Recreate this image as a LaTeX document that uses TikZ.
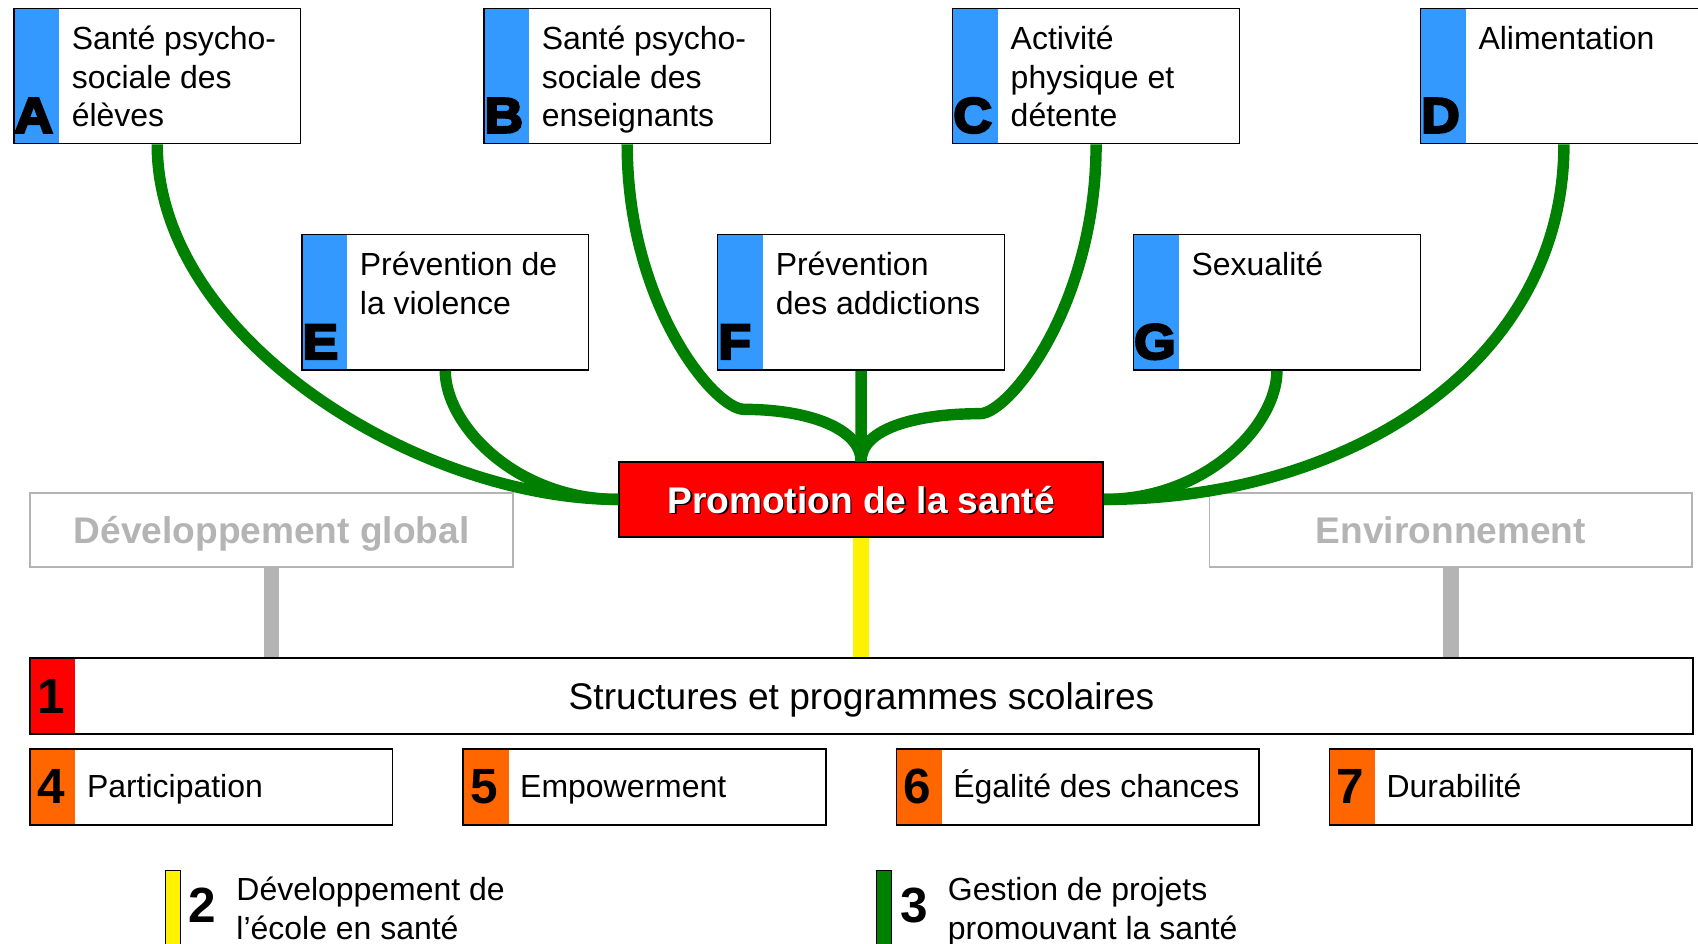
\documentclass[tikz,border=0pt]{standalone}
\usepackage{fontspec}
\setmainfont{Liberation Sans}
\newfontfamily\keyfont{Liberation Sans Bold}[FakeBold=5, FakeStretch=1.08]
\usetikzlibrary{calc}

\definecolor{themeblue}{RGB}{51,153,255}
\definecolor{branchgreen}{RGB}{0,128,0}
\definecolor{pillarorange}{RGB}{255,102,0}
\definecolor{faded}{RGB}{180,180,180}

\newcommand\shadowed[1]{\makebox[0pt][l]{\color{black}\hspace{0.9pt}\raisebox{-0.9pt}{#1}}#1}

\begin{document}
\begin{tikzpicture}[x=0.02cm, y=-0.02cm,
  strip/.style={path picture={\fill[#1] (path picture bounding box.north west) rectangle ([xshift=0.84cm]path picture bounding box.south west);}},
  theme/.style={draw, line width=0.8pt, fill=white, anchor=north west, inner sep=0pt, minimum width=5.3cm, minimum height=2.5cm, strip=themeblue},
  pillar/.style={draw, line width=0.8pt, fill=white, anchor=north west, inner sep=0pt, minimum width=6.7cm, minimum height=1.4cm, strip=pillarorange},
  plain/.style={font=\fontsize{16.8}{20.3}\selectfont, inner sep=0pt, align=left},
  keyletter/.style={font=\keyfont\fontsize{26}{26}\selectfont, inner sep=0pt, anchor=base west},
  numeral/.style={font=\fontsize{26}{26}\selectfont\bfseries, inner sep=0pt},
  big/.style={font=\fontsize{19.5}{23}\selectfont, text depth=0pt},
  faded box/.style={draw=faded, line width=1pt, text=faded, anchor=north west, minimum width=8.92cm, minimum height=1.38cm, font=\fontsize{19.5}{23}\selectfont\bfseries, text depth=0pt},
  branch/.style={branchgreen, line width=6pt},
  legendbar/.style={draw, line width=0.6pt, anchor=north west, inner sep=0pt, minimum width=0.28cm, minimum height=2cm}]
  \clip (0,0) rectangle (1568,871);

  \foreach \key/\x/\y/\txt in {A/12/7/{Santé psycho-\\sociale des\\élèves}, B/446/7/{Santé psycho-\\sociale des\\enseignants}, C/879/7/{Activité\\physique et\\détente}, D/1311/7/{Alimentation}, E/278/216/{Prévention de\\la violence}, F/662/216/{Prévention\\des addictions}, G/1046/216/{Sexualité}}{
    \node[theme] (\key) at (\x,\y) {};
    \node[keyletter] (\key-key) at ($(\key.south west)+(1,-11)$) {\key};
    \node[plain, anchor=north west] (\key-text) at ($(\key.north west)+(54,13.5)$) {\strut\txt};
  }

  \node[faded box] (dev) at (27,454) {Développement global};
  \node[faded box] (env) at (1116,454) {Environnement};
  \node[draw, line width=0.8pt, fill=red, text=white, anchor=north west, minimum width=8.94cm, minimum height=1.38cm, font=\fontsize{19.5}{23}\selectfont\bfseries, text depth=0pt] (promo) at (571,426) {\shadowed{Promotion de la santé}};

  \node[pillar, strip=red, minimum width=30.72cm, big] (base) at (27,607) {Structures et programmes scolaires};
  \node[numeral] (base-num) at ($(base.west)+(20,0)$) {1};
  \foreach \num/\x/\txt in {4/27/Participation, 5/427/Empowerment, 6/827/Égalité des chances, 7/1227/Durabilité}{
    \node[pillar] (P\num) at (\x,691) {};
    \node[numeral] (P\num-num) at ($(P\num.west)+(20,0)$) {\num};
    \node[plain, anchor=base west] (P\num-text) at ($(P\num.west)+(53,10)$) {\txt};
  }

  \draw[faded, line width=8pt] (dev.south) -- (dev.south |- base.north);
  \draw[faded, line width=8pt] (env.south) -- (env.south |- base.north);
  \draw[yellow, line width=8.5pt] (promo.south) -- (promo.south |- base.north);

  \coordinate (bendB) at (687,378);
  \coordinate (bendC) at (905,382);
  \draw[branch] (A.south) .. controls +(0,180) and +(-183,0) .. (promo.west);
  \draw[branch] (E.south) .. controls +(0,49) and +(-96,0) .. (promo.west);
  \draw[branch] (D.south) .. controls +(0,200) and +(230,0) .. (promo.east);
  \draw[branch] (G.south) .. controls +(0,49) and +(96,0) .. (promo.east);
  \draw[branch] (F.south) -- (promo.north);
  \draw[branch] (B.south) .. controls +(0,148) and +(-27,0) .. (bendB) .. controls +(60,0) and +(0,-30) .. (promo.north);
  \draw[branch] (C.south) .. controls +(0,148) and +(27,0) .. (bendC) .. controls +(-60,0) and +(0,-30) .. (promo.north);

  \node[legendbar, fill=yellow] (barII) at (152,803) {};
  \node[numeral] (barII-num) at (187,836) {2};
  \node[plain, anchor=north west] (barII-text) at (218,806.5) {\strut Développement de\\l’école en santé};
  \node[legendbar, fill=branchgreen] (barIII) at (809,803) {};
  \node[numeral] (barIII-num) at (844,836) {3};
  \node[plain, anchor=north west] (barIII-text) at (875,806.5) {\strut Gestion de projets\\promouvant la santé};
\end{tikzpicture}
\end{document}
